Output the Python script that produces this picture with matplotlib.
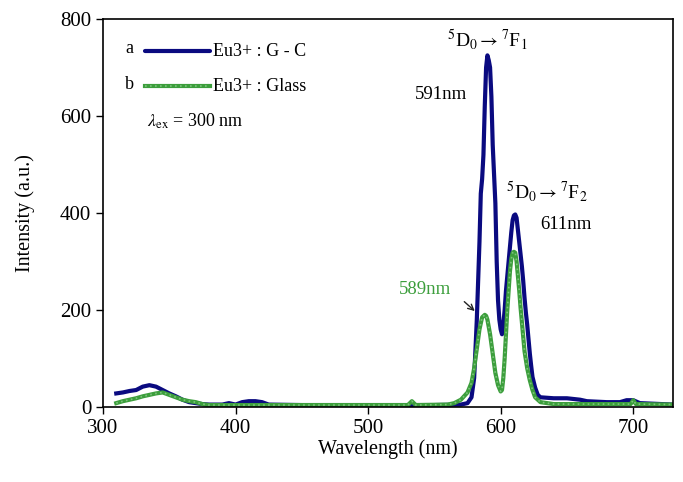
import matplotlib
matplotlib.use("Agg")
import matplotlib.pyplot as plt

plt.rcParams['font.family'] = ['Liberation Serif', 'DejaVu Serif']
plt.rcParams['mathtext.fontset'] = 'stix'

# Series a: Eu3+ : G - C (blue)
wl_a = [310, 315, 320, 325, 330, 335, 340, 345, 350, 355, 360, 365, 370, 375, 380, 390, 395, 400,
        405, 410, 415, 420, 425, 450, 500, 550, 570, 575, 578, 580, 582, 584, 585, 586, 587, 588,
        589, 590, 591, 592, 593, 594, 595, 596, 597, 598, 599, 600, 601, 602, 603, 604, 605, 606,
        607, 608, 609, 610, 611, 612, 613, 614, 615, 616, 617, 618, 619, 620, 621, 622, 623, 624,
        626, 628, 630, 640, 650, 660, 665, 680, 690, 695, 700, 705, 730]
int_a = [28, 30, 33, 35, 42, 45, 42, 35, 28, 22, 15, 10, 8, 6, 5, 5, 8, 5,
         10, 12, 12, 10, 5, 4, 4, 4, 5, 8, 20, 60, 180, 340, 440, 470, 520, 620,
         700, 725, 715, 700, 640, 540, 480, 420, 300, 220, 180, 160, 150, 170, 200, 240, 270, 300,
         330, 360, 385, 395, 397, 390, 365, 340, 315, 290, 260, 225, 195, 170, 140, 110, 85, 62,
         40, 25, 20, 18, 18, 15, 12, 10, 10, 14, 14, 8, 5]

# Series b: Eu3+ : Glass (green)
wl_b = [310, 315, 320, 325, 330, 335, 340, 345, 350, 355, 360, 365, 370, 375, 380, 400, 450, 530,
        533, 536, 560, 565, 570, 575, 578, 580, 582, 584, 586, 588, 589, 590, 592, 594, 596, 598,
        600, 601, 602, 603, 604, 605, 606, 607, 608, 609, 610, 611, 612, 613, 614, 615, 616, 617,
        618, 620, 622, 624, 626, 630, 640, 698, 700, 702, 730]
int_b = [8, 12, 15, 18, 22, 25, 28, 30, 25, 20, 15, 12, 10, 6, 4, 4, 4, 4,
         12, 4, 5, 8, 15, 30, 50, 80, 120, 160, 185, 190, 188, 180, 150, 110, 70, 45,
         32, 35, 60, 100, 150, 200, 240, 280, 305, 318, 320, 318, 300, 270, 240, 205, 175, 145,
         115, 80, 55, 35, 20, 10, 6, 6, 14, 6, 5]

blue = '#0a0a80'
green = '#3c9e3c'
green_light = '#7cc47c'

fig = plt.figure(figsize=(6.83, 4.82), dpi=100)
ax = fig.add_axes([103/683, 1-407/482, 570/683, 388/482])

ax.plot(wl_a, int_a, color=blue, lw=3.0, solid_joinstyle='round')
ax.plot(wl_b, int_b, color=green, lw=3.0, solid_joinstyle='round')
ax.plot(wl_b, int_b, color=green_light, lw=1.2, ls=(0, (1, 2)))

ax.set_xlim(300, 730)
ax.set_ylim(0, 800)
ax.set_xticks([300, 400, 500, 600, 700])
ax.set_yticks([0, 200, 400, 600, 800])
ax.tick_params(direction='out', labelsize=15, length=5, width=1)
for s in ax.spines.values():
    s.set_linewidth(1.2)
ax.set_xlabel('Wavelength (nm)', fontsize=14.5, labelpad=1)
ax.set_ylabel('Intensity (a.u.)', fontsize=14.5, labelpad=18)

# legend (manual)
ax.plot([332, 381], [734, 734], color=blue, lw=3.0, solid_capstyle='round')
ax.plot([332, 381], [661, 661], color=green, lw=3.0)
ax.plot([332, 381], [661, 661], color=green_light, lw=1.2, ls=(0, (1, 2)))
ax.text(320, 740, 'a', fontsize=13, ha='center', va='center')
ax.text(320, 665, 'b', fontsize=13, ha='center', va='center')
ax.text(383, 734, 'Eu3+ : G - C', fontsize=13, ha='left', va='center')
ax.text(383, 661, 'Eu3+ : Glass', fontsize=13, ha='left', va='center')
ax.text(333, 590, r'$\lambda_{\rm ex}$ = 300 nm', fontsize=13, ha='left', va='center')

# annotations
ax.text(590, 758, r'$^{5}$D$_{0}\rightarrow$$^{7}$F$_{1}$', fontsize=14, ha='center', va='center')
ax.text(635, 444, r'$^{5}$D$_{0}\rightarrow$$^{7}$F$_{2}$', fontsize=14, ha='center', va='center')
ax.text(555, 645, '591nm', fontsize=13.5, ha='center', va='center')
ax.text(649, 376, '611nm', fontsize=13.5, ha='center', va='center')
ax.text(543, 242, '589nm', fontsize=13.5, ha='center', va='center', color=green)
ax.annotate('', xy=(582, 194), xytext=(571, 221),
            arrowprops=dict(arrowstyle='->', color='#222222', lw=1.0))

fig.savefig('out.png', dpi=100)
